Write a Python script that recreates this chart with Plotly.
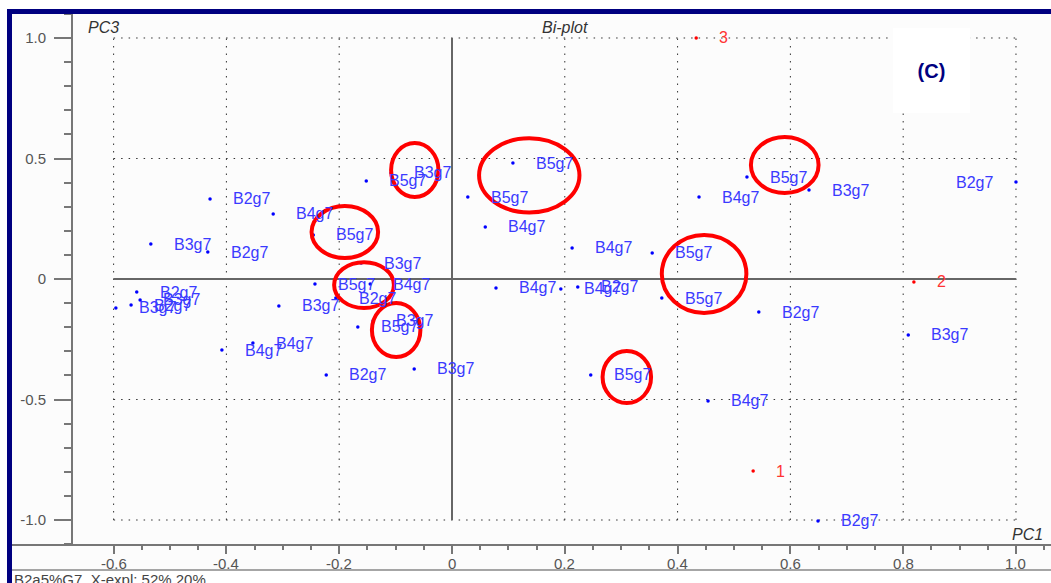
import plotly.graph_objects as go

# ---- sample scores (PC1, PC3) ----
score_pc1 = [-0.429, -0.317, -0.534, -0.433, -0.559, -0.553, -0.569, -0.596,
             -0.307, -0.408, -0.353, -0.223, -0.243, -0.206, -0.152, -0.108,
             -0.246, -0.161, -0.145, -0.167, -0.140, -0.067, 0.059, 0.213,
             0.355, 0.078, 0.193, 0.223, 0.372, 0.246, 0.108, 0.028,
             0.523, 0.633, 1.000, 0.438, 0.544, 0.809, 0.649, 0.454]
score_pc3 = [0.332, 0.270, 0.145, 0.112, -0.054, -0.087, -0.108, -0.120,
             -0.112, -0.295, -0.266, -0.398, -0.021, -0.079, 0.407, 0.440,
             0.183, 0.066, -0.021, -0.199, -0.174, -0.373, 0.216, 0.129,
             0.108, -0.037, -0.041, -0.033, -0.079, -0.398, 0.481, 0.340,
             0.423, 0.369, 0.402, 0.340, -0.137, -0.232, -1.004, -0.506]
score_names = ["B2g7", "B4g7", "B3g7", "B2g7", "B2g7", "B3g7", "B2g7", "B3g7",
               "B3g7", "B4g7", "B4g7", "B2g7", "B5g7", "B2g7", "B5g7", "B3g7",
               "B5g7", "B3g7", "B4g7", "B5g7", "B3g7", "B3g7", "B4g7", "B4g7",
               "B5g7", "B4g7", "B4g7", "B2g7", "B5g7", "B5g7", "B5g7", "B5g7",
               "B5g7", "B3g7", "B2g7", "B4g7", "B2g7", "B3g7", "B2g7", "B4g7"]

# ---- variable loadings ----
load_pc1 = [0.534, 0.819, 0.433]
load_pc3 = [-0.797, -0.012, 1.000]
load_names = ["1", "2", "3"]

# ---- highlighted groups: centre x, centre y, half-width, half-height ----
ring_cx = [-0.066, 0.137, 0.590, -0.190, -0.156, -0.099, 0.447, 0.310]
ring_cy = [0.452, 0.430, 0.473, 0.195, -0.025, -0.212, 0.021, -0.407]
ring_rx = [0.042, 0.089, 0.060, 0.059, 0.053, 0.043, 0.075, 0.043]
ring_ry = [0.112, 0.154, 0.116, 0.108, 0.095, 0.112, 0.162, 0.108]

# ---- axes ----
x_ticks = [-0.6, -0.4, -0.2, 0.0, 0.2, 0.4, 0.6, 0.8, 1.0]
x_ticktext = ["-0.6", "-0.4", "-0.2", "0", "0.2", "0.4", "0.6", "0.8", "1.0"]
y_ticks = [-1.0, -0.5, 0.0, 0.5, 1.0]
y_ticktext = ["-1.0", "-0.5", "0", "0.5", "1.0"]

W, H = 1051, 583
FONT = "Liberation Sans, Arial, sans-serif"
PANEL = "#fcfcfc"
AXIS = "#777777"
NAVY = "#000080"
TICKFONT = dict(family=FONT, size=15, color="#555555")


def px_x(p):
    return p / W


def px_y(p):
    return 1 - p / H


fig = go.Figure()

fig.add_trace(go.Scatter(
    x=score_pc1, y=score_pc3, mode="markers",
    marker=dict(color="#0000ff", size=3.5, symbol="circle"),
    hovertext=score_names, hoverinfo="text", showlegend=False))
fig.add_trace(go.Scatter(
    x=load_pc1, y=load_pc3, mode="markers",
    marker=dict(color="#ff0000", size=3.5, symbol="circle"),
    hovertext=load_names, hoverinfo="text", showlegend=False))

annotations = []
for x, y, name in zip(score_pc1, score_pc3, score_names):
    right_edge = x >= 0.95
    annotations.append(dict(
        x=x, y=y, xref="x", yref="y", text=name, showarrow=False,
        xanchor="right" if right_edge else "left",
        xshift=-21 if right_edge else 21, yanchor="middle",
        font=dict(family=FONT, size=16, color="#3a3aff")))
for x, y, name in zip(load_pc1, load_pc3, load_names):
    annotations.append(dict(
        x=x, y=y, xref="x", yref="y", text=name, showarrow=False,
        xanchor="left", xshift=21, yanchor="middle",
        font=dict(family=FONT, size=16, color="#ff3333")))

# PC1 tick labels, set just under the tick marks
for xv, txt in zip(x_ticks, x_ticktext):
    annotations.append(dict(
        x=xv, y=px_y(563), xref="x", yref="paper", text=txt, showarrow=False,
        xanchor="center", yanchor="middle", font=TICKFONT))

# axis captions and titles
annotations += [
    dict(x=px_x(103), y=px_y(27), xref="paper", yref="paper", text="<i>PC3</i>",
         showarrow=False, xanchor="center", yanchor="middle",
         font=dict(family=FONT, size=16, color="#333333")),
    dict(x=px_x(565), y=px_y(27), xref="paper", yref="paper", text="<i>Bi-plot</i>",
         showarrow=False, xanchor="center", yanchor="middle",
         font=dict(family=FONT, size=16, color="#333333")),
    dict(x=px_x(1027), y=px_y(534), xref="paper", yref="paper", text="<i>PC1</i>",
         showarrow=False, xanchor="center", yanchor="middle",
         font=dict(family=FONT, size=16, color="#333333")),
    dict(x=px_x(893), y=px_y(28), xref="paper", yref="paper", text="<b>(C)</b>",
         showarrow=False, xanchor="left", yanchor="top", width=77, height=85,
         bgcolor="#ffffff", borderpad=0, borderwidth=0, valign="middle",
         font=dict(family=FONT, size=20, color=NAVY)),
    dict(x=px_x(12), y=px_y(569), xref="paper", yref="paper",
         text="B2a5%G7, X-expl: 52% 20%", showarrow=False,
         xanchor="left", yanchor="top",
         font=dict(family=FONT, size=15, color="#444444")),
]

shapes = []
# panel background and frame
shapes.append(dict(type="rect", xref="paper", yref="paper", layer="below",
                   x0=px_x(12), x1=1, y0=px_y(570), y1=px_y(14),
                   fillcolor=PANEL, line=dict(width=0)))
shapes.append(dict(type="rect", xref="paper", yref="paper",
                   x0=px_x(7), x1=px_x(12), y0=0, y1=px_y(9),
                   fillcolor=NAVY, line=dict(width=0)))
shapes.append(dict(type="rect", xref="paper", yref="paper",
                   x0=px_x(7), x1=1, y0=px_y(14), y1=px_y(9),
                   fillcolor=NAVY, line=dict(width=0)))
# x-axis baseline running across the whole panel, and the footer rule
shapes.append(dict(type="line", xref="paper", yref="paper",
                   x0=px_x(12), x1=1, y0=px_y(545), y1=px_y(545),
                   line=dict(color=AXIS, width=2)))
shapes.append(dict(type="line", xref="paper", yref="paper",
                   x0=px_x(12), x1=1, y0=px_y(570), y1=px_y(570),
                   line=dict(color="#888888", width=1.5)))

# dotted grid limited to the tick span
gx0, gx1 = x_ticks[0], x_ticks[-1]
gy0, gy1 = y_ticks[0], y_ticks[-1]
for xv in x_ticks:
    if xv == 0:
        continue
    shapes.append(dict(type="line", xref="x", yref="y", layer="below",
                       x0=xv, x1=xv, y0=gy0, y1=gy1,
                       line=dict(color="#333333", width=1, dash="1.5px,6px")))
for yv in y_ticks:
    if yv == 0:
        continue
    shapes.append(dict(type="line", xref="x", yref="y", layer="below",
                       x0=gx0, x1=gx1, y0=yv, y1=yv,
                       line=dict(color="#333333", width=1, dash="1.5px,6px")))
# solid origin cross
shapes.append(dict(type="line", xref="x", yref="y", layer="below",
                   x0=0, x1=0, y0=gy0, y1=gy1, line=dict(color="#666666", width=2)))
shapes.append(dict(type="line", xref="x", yref="y", layer="below",
                   x0=gx0, x1=gx1, y0=0, y1=0, line=dict(color="#666666", width=2)))

# red rings around the highlighted groups
for cx, cy, rx, ry in zip(ring_cx, ring_cy, ring_rx, ring_ry):
    shapes.append(dict(type="circle", xref="x", yref="y",
                       x0=cx - rx, x1=cx + rx, y0=cy - ry, y1=cy + ry,
                       line=dict(color="#ff0000", width=4)))

x_minor = [round(-0.6 + 0.05 * i, 2) for i in range(34)]

fig.update_layout(
    width=W, height=H,
    margin=dict(l=0, r=0, t=0, b=0),
    paper_bgcolor="#ffffff", plot_bgcolor=PANEL,
    font=dict(family=FONT),
    showlegend=False,
    annotations=annotations,
    shapes=shapes,
    xaxis=dict(
        domain=[px_x(73), 1], range=[-0.672, 1.0621],
        tickmode="array", tickvals=x_ticks, ticktext=x_ticktext,
        ticks="outside", ticklen=8, tickwidth=2, tickcolor=AXIS,
        minor=dict(tickmode="array", tickvals=x_minor, ticks="outside",
                   ticklen=4, tickwidth=1.5, tickcolor=AXIS, showgrid=False),
        showgrid=False, zeroline=False, showline=False,
        showticklabels=False,
    ),
    yaxis=dict(
        domain=[px_y(545), px_y(13)], range=[-1.1037, 1.1037],
        tickmode="array", tickvals=y_ticks, ticktext=y_ticktext,
        ticks="outside", ticklen=17, tickwidth=2, tickcolor=AXIS,
        minor=dict(tickmode="linear", tick0=0, dtick=0.1, ticks="outside",
                   ticklen=7, tickwidth=2, tickcolor=AXIS, showgrid=False),
        showgrid=False, zeroline=False, showline=True, linecolor=AXIS, linewidth=2,
        tickfont=TICKFONT,
        ticklabelstandoff=5,
    ),
)

fig.write_html("out.html")
